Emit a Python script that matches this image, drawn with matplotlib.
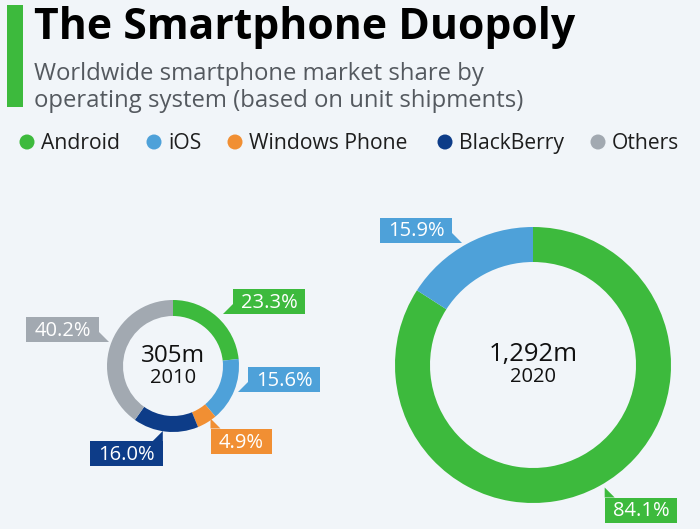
import matplotlib
matplotlib.use("Agg")
import matplotlib.pyplot as plt
from matplotlib.patches import Rectangle, Polygon, Circle

# ---------------- data ----------------
categories = ["Android", "iOS", "Windows Phone", "BlackBerry", "Others"]
share_2010 = [23.3, 15.6, 4.9, 16.0, 40.2]
share_2020 = [84.1, 15.9, 0.0, 0.0, 0.0]
total_2010 = "305m"
total_2020 = "1,292m"
year_2010 = "2010"
year_2020 = "2020"
title = "The Smartphone Duopoly"
subtitle = ["Worldwide smartphone market share by",
            "operating system (based on unit shipments)"]

# ---------------- style ----------------
colors = ["#3dba3d", "#4ea1d9", "#f18f33", "#0d3c88", "#a2a9b1"]
BG = "#f1f5f9"
FONT = "Open Sans"
W, H = 700, 529

def Y(y):
    return H - y

fig = plt.figure(figsize=(7, 5.29), dpi=100, facecolor=BG)
ax = fig.add_axes([0, 0, 1, 1])
ax.set_facecolor(BG)

# title block
ax.add_patch(Rectangle((7, Y(107)), 16, 102, color=colors[0], lw=0))
ax.text(34, Y(39), title, fontsize=30.7, fontweight="bold", family=FONT,
        color="#000000", va="baseline", ha="left")
ax.text(34, Y(80), subtitle[0], fontsize=17.2, family=FONT,
        color="#54595f", va="baseline", ha="left")
ax.text(34, Y(107), subtitle[1], fontsize=17.2, family=FONT,
        color="#54595f", va="baseline", ha="left")

# legend
legend_dot_x = [27, 154, 235, 445, 598]
for name, col, dx in zip(categories, colors, legend_dot_x):
    ax.add_patch(Circle((dx, Y(142)), 7.5, color=col, lw=0))
    ax.text(dx + 14, Y(149), name, fontsize=15.2, family=FONT,
            color="#1e1e1e", va="baseline", ha="left")

# donuts
donuts = [
    dict(values=share_2010, center=(173, 366), r=66, w=16,
         total=total_2010, year=year_2010, fs1=17.5, fs2=14.5),
    dict(values=share_2020, center=(533, 365), r=138, w=35,
         total=total_2020, year=year_2020, fs1=18.5, fs2=14.5),
]
for d in donuts:
    vals = [v for v in d["values"] if v > 0]
    cols = [c for v, c in zip(d["values"], colors) if v > 0]
    cx, cy = d["center"]
    ax.pie(vals, colors=cols, startangle=90, counterclock=False,
           radius=d["r"], center=(cx, Y(cy)), frame=True,
           wedgeprops=dict(width=d["w"], linewidth=0, antialiased=True))
    ax.text(cx, Y(cy - 4), d["total"], fontsize=d["fs1"], family=FONT,
            fontweight="medium", color="#111111", ha="center", va="baseline")
    ax.text(cx, Y(cy + 17), d["year"], fontsize=d["fs2"], family=FONT,
            color="#111111", ha="center", va="baseline")

ax.set_xlim(0, W)
ax.set_ylim(0, H)
ax.set_aspect("auto")
ax.set_axis_off()

# callout labels: (donut index, category index, box center, tail style)
label_layout = [
    (0, 0, (269, 301.5), "bl_left"),
    (0, 1, (284, 379.5), "bl_left"),
    (0, 2, (241, 441), "tl_up"),
    (0, 3, (126.5, 453.5), "tr_up"),
    (0, 4, (62.5, 329.5), "br_right"),
    (1, 1, (416, 230), "br_right"),
    (1, 0, (641, 510), "tl_up"),
]
BOX_H = 25
PADX = 8
TAIL = 10
LABEL_FS = 14.5

texts = []
for di, ci, (bx, by), tail in label_layout:
    val = donuts[di]["values"][ci]
    t = ax.text(bx, Y(by) - 6.5, f"{val:.1f}%", fontsize=LABEL_FS,
                family=FONT, color="white", ha="center", va="baseline",
                zorder=5)
    texts.append((t, ci, bx, by, tail))

fig.canvas.draw()
renderer = fig.canvas.get_renderer()
for t, ci, bx, by, tail in texts:
    ext = t.get_window_extent(renderer)
    bw = ext.width + 2 * PADX
    L, R = bx - bw / 2, bx + bw / 2
    T, B = by - BOX_H / 2, by + BOX_H / 2
    col = colors[ci]
    ax.add_patch(Rectangle((L, Y(B)), bw, BOX_H, color=col, lw=0, zorder=4))
    if tail == "bl_left":
        pts = [(L, B - TAIL), (L, B), (L - TAIL, B)]
    elif tail == "br_right":
        pts = [(R, B - TAIL), (R, B), (R + TAIL, B)]
    elif tail == "tl_up":
        pts = [(L, T), (L + TAIL, T), (L, T - TAIL)]
    else:  # tr_up
        pts = [(R, T), (R - TAIL, T), (R, T - TAIL)]
    ax.add_patch(Polygon([(x, Y(y)) for x, y in pts], closed=True,
                         color=col, lw=0, zorder=4))

fig.savefig("out.png", dpi=100, facecolor=BG)
